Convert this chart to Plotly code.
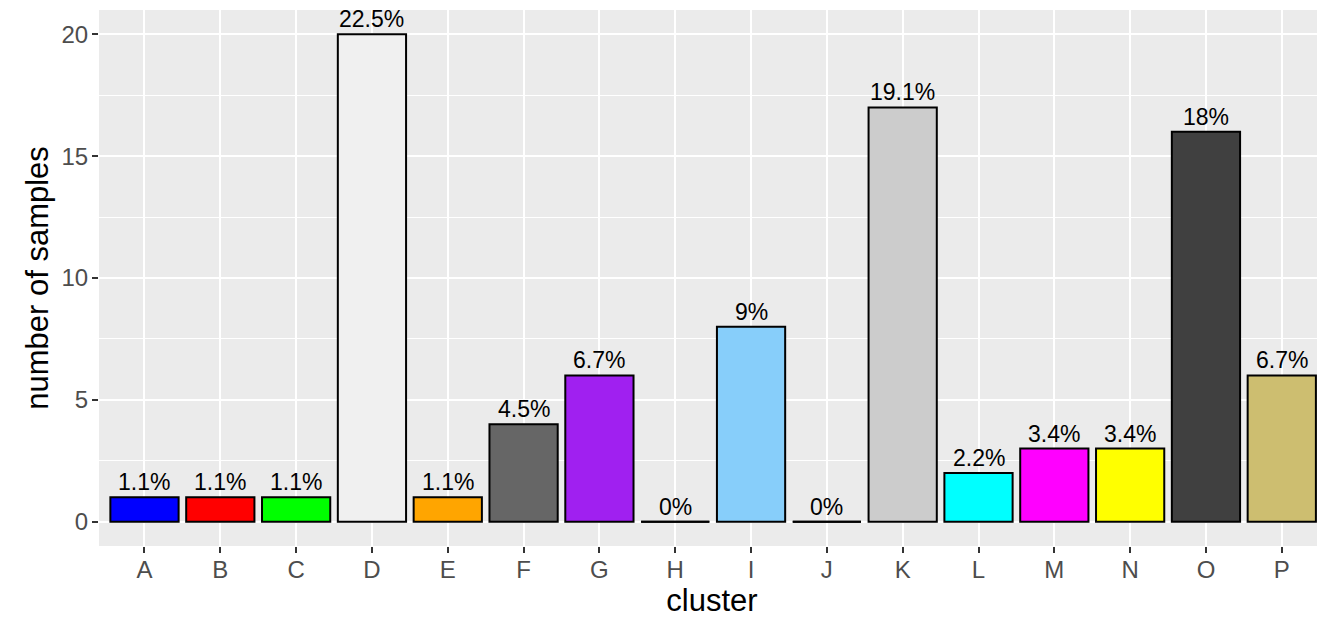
import plotly.graph_objects as go

clusters = ['A','B','C','D','E','F','G','H','I','J','K','L','M','N','O','P']
counts = [1,1,1,20,1,4,6,0,8,0,17,2,3,3,16,6]
pct_labels = ['1.1%','1.1%','1.1%','22.5%','1.1%','4.5%','6.7%','0%','9%','0%',
              '19.1%','2.2%','3.4%','3.4%','18%','6.7%']
bar_colors = ['#0000FF','#FF0000','#00FF00','#F0F0F0','#FFA500','#666666','#A020F0','#BEBEBE',
              '#87CEFA','#BEBEBE','#CCCCCC','#00FFFF','#FF00FF','#FFFF00','#404040','#CDBE70']

font_fam = 'Liberation Sans, Arial, Helvetica, sans-serif'

fig = go.Figure()
fig.add_trace(go.Bar(x=clusters, y=counts, width=0.9,
                     marker_color=bar_colors,
                     marker_line_color='black', marker_line_width=2,
                     hoverinfo='skip', showlegend=False))

# percentage labels just above each bar
for c, n, t in zip(clusters, counts, pct_labels):
    fig.add_annotation(x=c, y=n, text=t, showarrow=False, yanchor='bottom', yshift=1,
                       borderpad=0, font=dict(size=23, color='black', family=font_fam))

# zero-count clusters are drawn as a flat outline at 0
for i, c in enumerate(counts):
    if c == 0:
        fig.add_shape(type='line', xref='x', yref='y', x0=i-0.45, x1=i+0.45, y0=0, y1=0,
                      line=dict(color='black', width=2), layer='above')

# page body has an 8px margin, so the figure is 8px smaller on each side
fig.update_layout(width=1317, height=612,
                  margin=dict(l=91, r=0, t=2, b=74),
                  paper_bgcolor='white', plot_bgcolor='#EBEBEB',
                  font=dict(family=font_fam),
                  bargap=0.1)
fig.update_xaxes(range=[-0.6, 15.57], showgrid=True, gridcolor='white', gridwidth=1.6,
                 ticks='outside', ticklen=6, tickwidth=1.5, tickcolor='#333333',
                 tickfont=dict(size=24, color='#4D4D4D'), ticklabelstandoff=-4,
                 title=dict(text='cluster', font=dict(size=31, color='black'), standoff=4),
                 zeroline=False, showline=False, automargin=False)
fig.update_yaxes(range=[-1.0, 21.0], tickvals=[0,5,10,15,20], showgrid=True,
                 gridcolor='white', gridwidth=1.6,
                 minor=dict(dtick=2.5, tick0=0, showgrid=True, gridcolor='white', gridwidth=0.8),
                 ticks='outside', ticklen=6, tickwidth=1.5, tickcolor='#333333',
                 tickfont=dict(size=24, color='#4D4D4D'), ticklabelstandoff=-1,
                 title=dict(text='number of samples', font=dict(size=31, color='black'), standoff=3),
                 zeroline=False, showline=False, automargin=False)

fig.write_html("out.html")
